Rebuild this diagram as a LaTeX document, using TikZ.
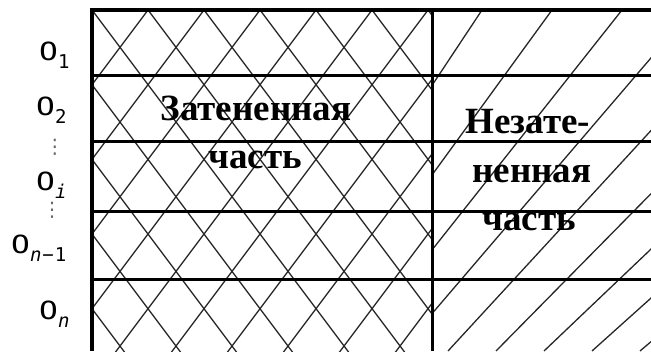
\documentclass[tikz,border=0pt]{standalone}
\usepackage{graphicx}
\usepackage{fontspec}
\setmainfont{Liberation Serif}
\newfontfamily\labfont{DejaVu Sans Mono}
\newfontfamily\dotfont{DejaVu Sans}
\tikzset{
  hatch/.style={line width=1.3pt, black!85},
  frame/.style={line width=3pt, black},
  thickframe/.style={line width=4pt, black},
  part/.style={font=\fontsize{37}{37}\selectfont\bfseries, inner sep=0pt},
  lab/.style={font=\labfont\fontsize{25}{25}\selectfont, inner sep=0pt},
  dots/.style={font=\dotfont\fontsize{20}{20}\selectfont, inner sep=0pt, text=black!60}
}
\newcommand{\lO}{\scalebox{1.25}[1]{O}}
\newcommand{\lsub}[1]{\raisebox{-8pt}{\fontsize{19}{19}\selectfont #1}}
\begin{document}
\begin{tikzpicture}[x=1pt,y=-1pt]
\useasboundingbox (0,0) rectangle (651,351);
% crosshatch, shaded part
\begin{scope}
  \clip (92,10) rectangle (432,351);
  \foreach \k in {-6,...,10} {
    \draw[hatch] ({148+56*\k},10) -- ++(-300,400);
    \draw[hatch] ({148+56*\k},10) -- ++(300,400);
  }
\end{scope}
% single hatch, unshaded part
\begin{scope}
  \clip (432,10) rectangle (651,351);
  \foreach \k in {-3,...,9} {
    \draw[hatch] ({482+70*\k},10) -- ({256+48*\k},351);
  }
\end{scope}
% grid
\foreach \y in {75.5,141.5,211,279} {
  \draw[frame] (92,\y) -- (651,\y);
}
\draw[frame] (432,10) -- (432,351);
\draw[thickframe] (90,10) -- (651,10);
\draw[thickframe] (92,8) -- (92,351);
% texts
\node[part, anchor=base] (s1) at (256,120) {Затененная};
\node[part, anchor=base] (s2) at (255,168) {часть};
\node[part, anchor=base] (u1) at (528,133) {Незате-};
\node[part, anchor=base] (u2) at (532,182) {ненная};
\node[part, anchor=base] (u3) at (529,230) {часть};
% row labels
\node[lab, anchor=base west] (o1) at (39,60) {\lO\lsub{1}};
\node[lab, anchor=base west] (o2) at (36,115) {\lO\lsub{2}};
\node[dots] (d1) at (55,147) {⋮};
\node[lab, anchor=base west] (oi) at (36,190) {\lO\lsub{\textit{i}}};
\node[dots] (d2) at (52,210) {⋮};
\node[lab, anchor=base west] (on1) at (11,253) {\lO\lsub{\textit{n}\kern1pt−\kern1pt1}};
\node[lab, anchor=base west] (on) at (39,319) {\lO\lsub{\textit{n}}};
\end{tikzpicture}
\end{document}
